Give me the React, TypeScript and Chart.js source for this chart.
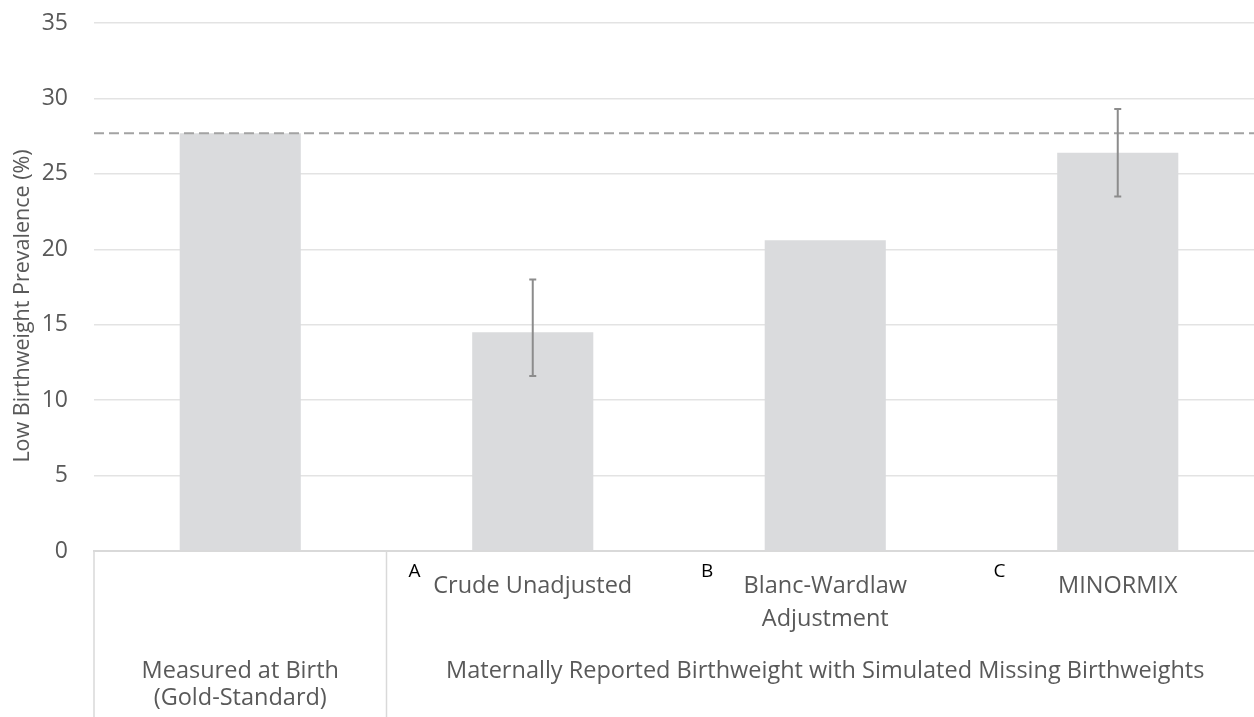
import React, { useEffect, useRef } from "react";
import { Chart, registerables } from "chart.js";

Chart.register(...registerables);

// ---- data ----
const categories = [
  "Measured at Birth (Gold-Standard)",
  "Crude Unadjusted",
  "Blanc-Wardlaw Adjustment",
  "MINORMIX",
];
const tickLabels: (string | string[])[] = [
  "",
  "Crude Unadjusted",
  ["Blanc-Wardlaw", "Adjustment"],
  "MINORMIX",
];
const markerLetters = ["", "A", "B", "C"];
const prevalence = [27.7, 14.5, 20.6, 26.4];
const ciLow: (number | null)[] = [null, 11.6, null, 23.5];
const ciHigh: (number | null)[] = [null, 18.0, null, 29.3];
const goldStandard = 27.7;
const groupLabels = [
  ["Measured at Birth", "(Gold-Standard)"],
  ["Maternally Reported Birthweight with Simulated Missing Birthweights"],
];
const groupStart = [0, 1];
const groupEnd = [0, 3];
const yMin = 0;
const yMax = 35;
const yStep = 5;
const yTitle = "Low Birthweight Prevalence (%)";

// ---- style ----
const FONT = "'Open Sans', sans-serif";
const TEXT = "#595959";
const FS_TICK = 23;
const FS_CAT = 23.5;
const FS_TITLE = 21.5;
const W = 1266;
const H = 717;

const overlay = {
  id: "overlay",
  afterDatasetsDraw(chart: any) {
    const { ctx, chartArea } = chart;
    const x = chart.scales.x;
    const y = chart.scales.y;
    const half = (x.getPixelForValue(1) - x.getPixelForValue(0)) / 2;

    ctx.save();
    // reference dashed line
    const ry = y.getPixelForValue(goldStandard);
    ctx.strokeStyle = "#a3a3a3";
    ctx.lineWidth = 2;
    ctx.setLineDash([10, 5]);
    ctx.beginPath();
    ctx.moveTo(chartArea.left, ry);
    ctx.lineTo(chartArea.right, ry);
    ctx.stroke();
    ctx.setLineDash([]);

    // error bars
    ctx.strokeStyle = "#8c8c8c";
    ctx.lineWidth = 2;
    for (let i = 0; i < categories.length; i++) {
      const lo = ciLow[i];
      const hi = ciHigh[i];
      if (lo == null || hi == null) continue;
      const cx = x.getPixelForValue(i);
      const y1 = y.getPixelForValue(lo);
      const y2 = y.getPixelForValue(hi);
      ctx.beginPath();
      ctx.moveTo(cx, y1);
      ctx.lineTo(cx, y2);
      ctx.moveTo(cx - 3.5, y1);
      ctx.lineTo(cx + 3.5, y1);
      ctx.moveTo(cx - 3.5, y2);
      ctx.lineTo(cx + 3.5, y2);
      ctx.stroke();
    }

    // group separators under the axis
    ctx.strokeStyle = "#d9d9d9";
    ctx.lineWidth = 1.5;
    const bounds: number[] = [];
    for (let g = 0; g < groupStart.length; g++) {
      bounds.push(x.getPixelForValue(groupStart[g]) - half);
    }
    bounds.push(x.getPixelForValue(groupEnd[groupEnd.length - 1]) + half);
    for (const bx of bounds) {
      ctx.beginPath();
      ctx.moveTo(bx, chartArea.bottom);
      ctx.lineTo(bx, chart.height);
      ctx.stroke();
    }

    // group labels
    ctx.fillStyle = TEXT;
    ctx.font = `${FS_CAT}px ${FONT}`;
    ctx.textAlign = "center";
    ctx.textBaseline = "middle";
    for (let g = 0; g < groupLabels.length; g++) {
      const gx =
        (x.getPixelForValue(groupStart[g]) - half + x.getPixelForValue(groupEnd[g]) + half) / 2;
      groupLabels[g].forEach((line, k) => {
        ctx.fillText(line, gx, chartArea.bottom + 120 + k * 27);
      });
    }

    // marker letters
    ctx.fillStyle = "#000000";
    ctx.font = `19px ${FONT}`;
    ctx.textAlign = "left";
    for (let i = 0; i < markerLetters.length; i++) {
      if (!markerLetters[i]) continue;
      const lx = x.getPixelForValue(i) - half + 22;
      ctx.fillText(markerLetters[i], lx, chartArea.bottom + 21);
    }

    // y title
    ctx.fillStyle = TEXT;
    ctx.font = `${FS_TITLE}px ${FONT}`;
    ctx.textAlign = "center";
    ctx.translate(23, 306);
    ctx.rotate(-Math.PI / 2);
    ctx.fillText(yTitle, 0, 0);
    ctx.restore();
  },
};

export default function App() {
  const ref = useRef<HTMLCanvasElement | null>(null);

  useEffect(() => {
    if (!ref.current) return;
    const chart = new Chart(ref.current, {
      type: "bar",
      data: {
        labels: tickLabels as any,
        datasets: [
          {
            label: "Low birthweight prevalence",
            data: prevalence,
            backgroundColor: "#dadbdd",
            borderWidth: 0,
            categoryPercentage: 1,
            barPercentage: 0.414,
          },
        ],
      },
      options: {
        animation: false,
        responsive: false,
        devicePixelRatio: 1,
        layout: { padding: { left: 0, right: 2, top: 23, bottom: 0 } },
        plugins: {
          legend: { display: false },
          tooltip: { enabled: false },
          title: { display: false },
        },
        scales: {
          x: {
            offset: true,
            grid: { display: false, drawTicks: false },
            border: { display: true, color: "#d9d9d9", width: 2 },
            ticks: {
              color: TEXT,
              font: { family: FONT, size: FS_CAT, lineHeight: 1.4 },
              padding: 19,
              maxRotation: 0,
              autoSkip: false,
            },
            afterFit: (s: any) => {
              s.height = 166;
            },
          },
          y: {
            min: yMin,
            max: yMax,
            grid: {
              color: "#e3e3e3",
              lineWidth: 1.5,
              drawTicks: true,
              tickLength: 26,
              tickColor: "rgba(0,0,0,0)",
            },
            border: { display: false },
            ticks: {
              stepSize: yStep,
              color: TEXT,
              padding: 0,
              font: { family: FONT, size: FS_TICK },
            },
            afterFit: (s: any) => {
              s.width = 94;
            },
          },
        },
      },
      plugins: [overlay],
    });
    return () => chart.destroy();
  }, []);

  return (
    <div
      style={{
        position: "absolute",
        left: 0,
        top: 0,
        width: 1254,
        height: H,
        overflow: "hidden",
        background: "#fff",
      }}
    >
      <canvas ref={ref} width={W} height={H} style={{ width: W, height: H, display: "block" }} />
    </div>
  );
}
